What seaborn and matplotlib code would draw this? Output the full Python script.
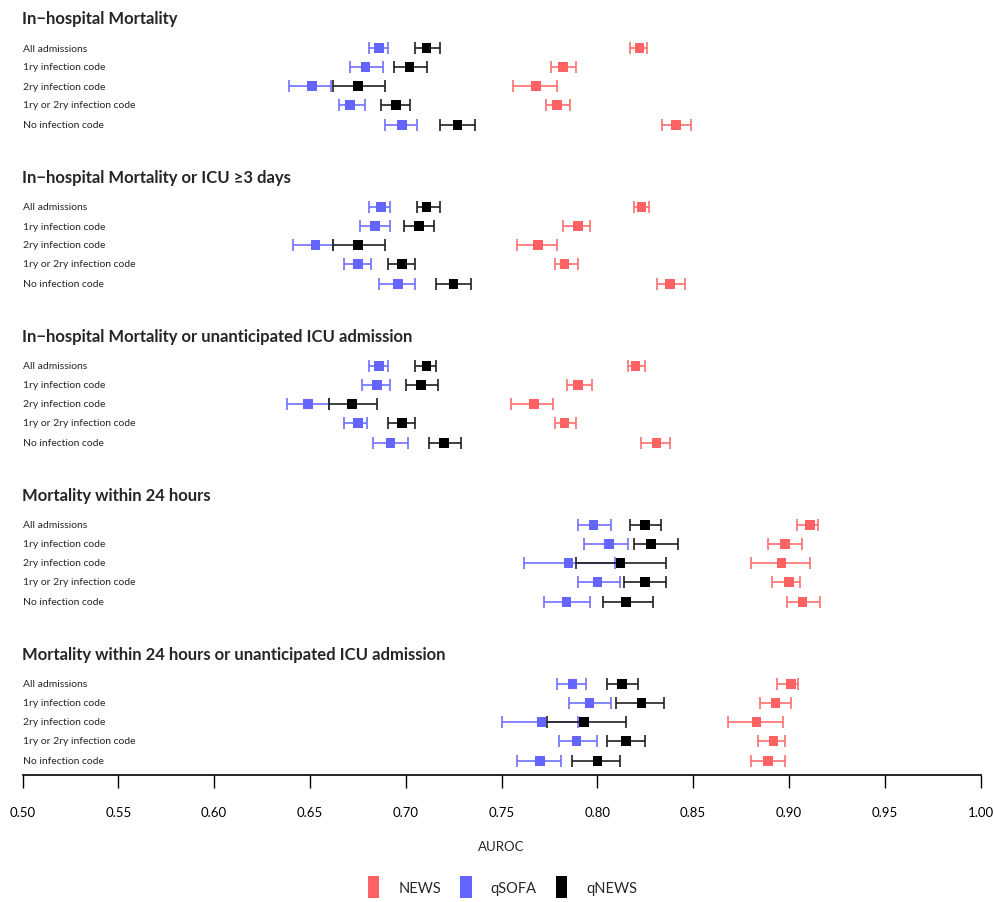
import numpy as np
import pandas as pd
import matplotlib
matplotlib.use("Agg")
import matplotlib.pyplot as plt
import matplotlib.transforms as mtransforms
from matplotlib.patches import Patch
import seaborn as sns

# ---------------- data ----------------
outcomes = [
    "In\u2212hospital Mortality",
    "In\u2212hospital Mortality or ICU \u22653 days",
    "In\u2212hospital Mortality or unanticipated ICU admission",
    "Mortality within 24 hours",
    "Mortality within 24 hours or unanticipated ICU admission",
]
subgroups = ["All admissions", "1ry infection code", "2ry infection code",
             "1ry or 2ry infection code", "No infection code"]
scores = ["NEWS", "qSOFA", "qNEWS"]

news_auc = [[0.822, 0.782, 0.768, 0.779, 0.841],
            [0.823, 0.790, 0.769, 0.783, 0.838],
            [0.820, 0.790, 0.767, 0.783, 0.831],
            [0.911, 0.898, 0.896, 0.900, 0.907],
            [0.901, 0.893, 0.883, 0.892, 0.889]]
news_lo = [[0.817, 0.776, 0.756, 0.773, 0.834],
           [0.819, 0.782, 0.758, 0.778, 0.831],
           [0.816, 0.784, 0.755, 0.778, 0.823],
           [0.904, 0.889, 0.880, 0.891, 0.899],
           [0.894, 0.885, 0.868, 0.884, 0.880]]
news_hi = [[0.826, 0.789, 0.779, 0.786, 0.849],
           [0.827, 0.796, 0.779, 0.790, 0.846],
           [0.825, 0.797, 0.777, 0.789, 0.838],
           [0.915, 0.907, 0.911, 0.906, 0.916],
           [0.905, 0.901, 0.897, 0.898, 0.898]]

qsofa_auc = [[0.686, 0.679, 0.651, 0.671, 0.698],
             [0.687, 0.684, 0.653, 0.675, 0.696],
             [0.686, 0.685, 0.649, 0.675, 0.692],
             [0.798, 0.806, 0.785, 0.800, 0.784],
             [0.787, 0.796, 0.771, 0.789, 0.770]]
qsofa_lo = [[0.681, 0.671, 0.639, 0.665, 0.689],
            [0.681, 0.676, 0.641, 0.668, 0.686],
            [0.681, 0.677, 0.638, 0.668, 0.683],
            [0.790, 0.793, 0.762, 0.790, 0.772],
            [0.779, 0.785, 0.750, 0.780, 0.758]]
qsofa_hi = [[0.691, 0.688, 0.661, 0.679, 0.706],
            [0.692, 0.692, 0.662, 0.682, 0.705],
            [0.691, 0.692, 0.660, 0.680, 0.701],
            [0.807, 0.816, 0.809, 0.812, 0.796],
            [0.794, 0.807, 0.790, 0.800, 0.781]]

qnews_auc = [[0.711, 0.702, 0.675, 0.695, 0.727],
             [0.711, 0.707, 0.675, 0.698, 0.725],
             [0.711, 0.708, 0.672, 0.698, 0.720],
             [0.825, 0.828, 0.812, 0.825, 0.815],
             [0.813, 0.823, 0.793, 0.815, 0.800]]
qnews_lo = [[0.705, 0.694, 0.662, 0.687, 0.718],
            [0.706, 0.699, 0.662, 0.691, 0.716],
            [0.705, 0.700, 0.660, 0.691, 0.712],
            [0.817, 0.819, 0.789, 0.814, 0.803],
            [0.805, 0.810, 0.774, 0.805, 0.787]]
qnews_hi = [[0.718, 0.711, 0.689, 0.702, 0.736],
            [0.718, 0.715, 0.689, 0.705, 0.734],
            [0.716, 0.717, 0.685, 0.705, 0.729],
            [0.833, 0.842, 0.836, 0.836, 0.829],
            [0.821, 0.835, 0.815, 0.825, 0.812]]

x_ticks = [0.50, 0.55, 0.60, 0.65, 0.70, 0.75, 0.80, 0.85, 0.90, 0.95, 1.00]

# ---------------- layout ----------------
W, H = 995, 903
AXIS_Y = 776          # pixel row of the x axis
SEC_PITCH = 159
ROW0 = 49
ROW_PITCH = 19
TITLE_OFF = 30

sns.set_theme(style="white")
plt.rcParams['font.family'] = ['Lato', 'DejaVu Sans']

colors = {"NEWS": "#FF6262", "qSOFA": "#6464FF", "qNEWS": "#000000"}
line_colors = {"NEWS": "#FF7070", "qSOFA": "#7070FF", "qNEWS": "#202020"}

vals = {"NEWS": (news_auc, news_lo, news_hi),
        "qSOFA": (qsofa_auc, qsofa_lo, qsofa_hi),
        "qNEWS": (qnews_auc, qnews_lo, qnews_hi)}


def row_y(i, j):
    return ROW0 + i * SEC_PITCH + j * ROW_PITCH + (1 if j == 4 else 0)


rows = []
for sc in scores:
    a, lo, hi = vals[sc]
    for i, oc in enumerate(outcomes):
        for j, sg in enumerate(subgroups):
            rows.append(dict(score=sc, outcome=oc, subgroup=sg,
                             auc=a[i][j], lo=lo[i][j], hi=hi[i][j],
                             ypos=row_y(i, j)))
df = pd.DataFrame(rows)

fig = plt.figure(figsize=(W / 100, H / 100), dpi=100)
ax = fig.add_axes([22.5 / W, 1 - AXIS_Y / H, (980.5 - 22.5) / W, AXIS_Y / H])

for sc in scores:
    d = df[df.score == sc]
    ax.errorbar(d.auc, d.ypos, xerr=[d.auc - d.lo, d.hi - d.auc], fmt='none',
                ecolor=line_colors[sc], elinewidth=1.2, capsize=4, capthick=1.2,
                zorder=2)

sns.scatterplot(data=df, x="auc", y="ypos", hue="score", palette=colors,
                hue_order=scores, marker="s", s=46, linewidth=0, legend=False,
                ax=ax, zorder=3)

ax.set_xlim(0.5, 1.0)
ax.set_ylim(AXIS_Y, 0)
ax.set_yticks([])
ax.set_ylabel("")
ax.set_xticks(x_ticks)
ax.set_xticklabels([f"{t:.2f}" for t in x_ticks])
ax.tick_params(axis='x', direction='out', length=9, width=1, pad=13,
               labelsize=9.5, colors='black', bottom=True)
ax.set_xlabel("AUROC", fontsize=9.5, labelpad=16)
for sp in ["top", "right", "left"]:
    ax.spines[sp].set_visible(False)
ax.spines["bottom"].set_color("black")
ax.spines["bottom"].set_linewidth(1.2)
ax.patch.set_alpha(0)

trans = mtransforms.blended_transform_factory(fig.transFigure, ax.transData)
for i, oc in enumerate(outcomes):
    ax.text(22 / W, row_y(i, 0) - TITLE_OFF, oc, transform=trans,
            fontsize=12, fontweight='bold', va='center', ha='left')
    for j, sg in enumerate(subgroups):
        ax.text(23 / W, row_y(i, j), sg, transform=trans, fontsize=7.5,
                va='center', ha='left')

handles = [Patch(facecolor=colors[s], edgecolor='none') for s in scores]
fig.legend(handles, scores, loc='center', bbox_to_anchor=(0.505, 1 - 888 / H),
           ncol=3, frameon=False, fontsize=10.5, handlelength=0.8,
           handleheight=2.0, handletextpad=1.3, columnspacing=1.3)

fig.savefig("out.png", dpi=100)
